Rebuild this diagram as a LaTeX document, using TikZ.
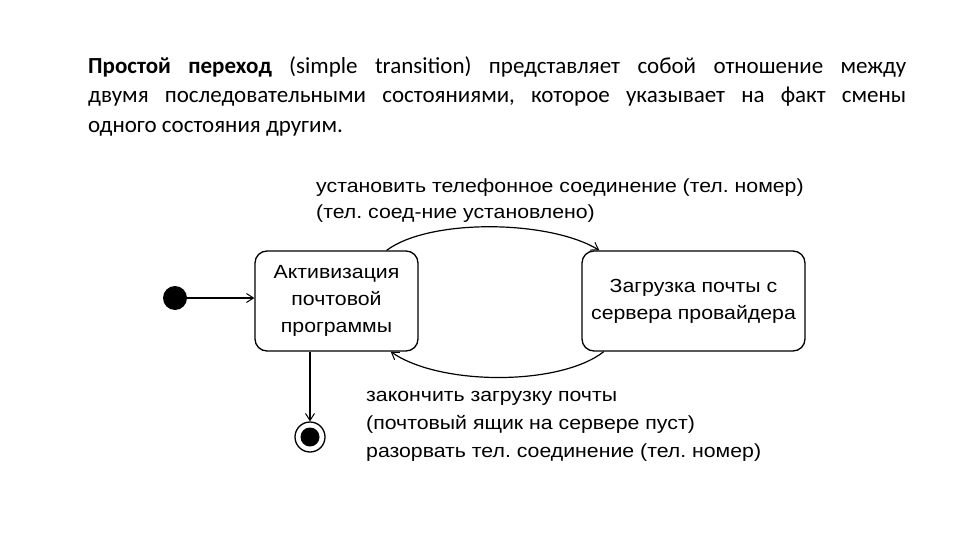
\documentclass[tikz,border=0pt]{standalone}
\usepackage{fontspec}
\setmainfont{Carlito}
\newfontfamily\arialf[FakeStretch=1.12]{Liberation Sans}
\usetikzlibrary{arrows.meta,calc}
\begin{document}
\frenchspacing
\begin{tikzpicture}[x=1pt,y=-1pt,
  state/.style={draw, line width=1.3pt, rounded corners=12pt, align=center, font=\arialf\fontsize{19}{27}\selectfont},
  tr/.style={line width=1.2pt, -{Straight Barb[length=7pt,width=9pt,line width=1pt]}},
  lbl/.style={align=left, inner sep=0pt, font=\arialf\fontsize{19}{27}\selectfont},
]
\useasboundingbox[fill=white] (0,0) rectangle (960,540);
\node[anchor=north west, inner sep=0pt, text width=818pt, align=justify,
      font=\fontsize{23}{29.5}\selectfont] (para) at (88,56)
  {\textbf{Простой переход} (simple transition) представляет собой отношение между\linebreak двумя последовательными состояниями, которое указывает на факт смены\linebreak одного состояния другим.};

\node[state, minimum width=163pt, minimum height=100pt] (act) at (336.5,301) {Активизация\\почтовой\\программы};
\node[state, minimum width=223pt, minimum height=100pt] (load) at (693.5,301) {Загрузка почты с\\сервера провайдера};

\node[circle, fill, minimum size=24pt, inner sep=0pt] (init) at (175,298) {};
\node[circle, draw, line width=1.3pt, minimum size=30pt, inner sep=0pt] (fin) at (310,437) {};
\node[circle, fill, minimum size=19pt, inner sep=0pt] (finin) at (fin) {};

\draw[tr] (init.east) -- (init.east -| act.west);
\draw[tr] (fin.north |- act.south) -- (fin.north);

\coordinate (a1) at ($(act.north west)!0.805!(act.north east)$);
\coordinate (b1) at ($(load.north west)!0.08!(load.north east)$);
\draw[tr] (a1) .. controls (430,218) and (550,220) .. (b1);

\coordinate (b2) at ($(load.south west)!0.1!(load.south east)$);
\coordinate (a2) at ($(act.south west)!0.83!(act.south east)$);
\draw[tr] (b2) .. controls (560,386) and (440,386) .. (a2);

\node[lbl, anchor=north west, font=\arialf\fontsize{19}{26}\selectfont] (top) at (316,179) {установить телефонное соединение (тел. номер)\\(тел. соед-ние установлено)};
\node[lbl, anchor=north west, font=\arialf\fontsize{19}{28}\selectfont] (bot) at (366,391) {закончить загрузку почты\\(почтовый ящик на сервере пуст)\\разорвать тел. соединение (тел. номер)};
\end{tikzpicture}
\end{document}
